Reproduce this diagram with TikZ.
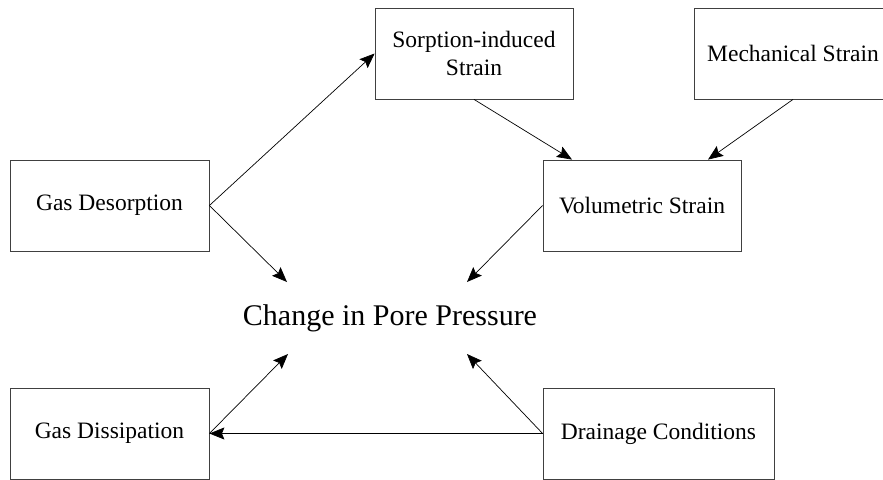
\documentclass[tikz,border=0pt]{standalone}
\usepackage{fontspec}
\setmainfont{Liberation Serif}
\usetikzlibrary{arrows.meta}

\begin{document}
\begin{tikzpicture}[
    x=1pt, y=-1pt,
    box/.style={draw=black!75, line width=0.8pt, align=center, inner sep=0pt, minimum width=198pt, minimum height=91pt, font=\fontsize{23.5}{28}\selectfont},
    arr/.style={-{Stealth[length=15pt,width=12pt,inset=2.5pt]}, line width=0.7pt}
  ]
    \useasboundingbox (0,0) rectangle (883,479);
    \clip (0,0) rectangle (883,479);

    \node[box, minimum width=199pt] (desorb) at (109.5,205.5) {Gas Desorption};
    \node[box] (sorpt) at (474,53.5) {Sorption-induced\\Strain};
    \node[box] (mech) at (793,53.5) {Mechanical Strain};
    \node[box] (volum) at (642,205.5) {Volumetric Strain};
    \node[box, minimum width=199pt] (dissip) at (109.5,433.5) {Gas Dissipation};
    \node[box, minimum width=231pt] (drain) at (658.5,433.5) {Drainage Conditions};

    \node[font=\fontsize{30}{36}\selectfont] (pore) at (390,318) {Change in Pore Pressure};

    \draw[arr] (desorb.east) -- (sorpt.west);
    \draw[arr] (desorb.east) -- ([shift={(-103,-36)}]pore.center);
    \draw[arr] (sorpt.south) -- ([xshift=-70pt]volum.north);
    \draw[arr] (mech.south) -- ([xshift=66pt]volum.north);
    \draw[arr] (volum.west) -- ([shift={(77,-36)}]pore.center);

    \draw[arr] (drain.west) -- ([shift={(77,36)}]pore.center);
    \draw[arr] (drain.west) -- (dissip.east);
    \draw[arr] (dissip.east) -- ([shift={(-102,36)}]pore.center);
  \end{tikzpicture}
\end{document}
